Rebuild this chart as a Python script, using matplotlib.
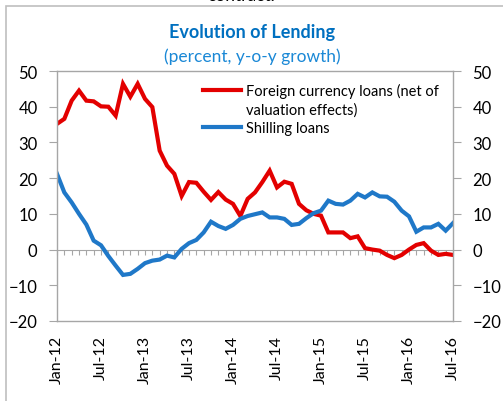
import numpy as np
import matplotlib.pyplot as plt
from matplotlib.lines import Line2D
from matplotlib.patches import Rectangle

plt.rcParams['font.family'] = ['Lato', 'DejaVu Sans']

# monthly data, Jan-12 .. Jul-16
months = ["Jan-12", "Feb-12", "Mar-12", "Apr-12", "May-12", "Jun-12", "Jul-12", "Aug-12", "Sep-12", "Oct-12", "Nov-12", "Dec-12",
          "Jan-13", "Feb-13", "Mar-13", "Apr-13", "May-13", "Jun-13", "Jul-13", "Aug-13", "Sep-13", "Oct-13", "Nov-13", "Dec-13",
          "Jan-14", "Feb-14", "Mar-14", "Apr-14", "May-14", "Jun-14", "Jul-14", "Aug-14", "Sep-14", "Oct-14", "Nov-14", "Dec-14",
          "Jan-15", "Feb-15", "Mar-15", "Apr-15", "May-15", "Jun-15", "Jul-15", "Aug-15", "Sep-15", "Oct-15", "Nov-15", "Dec-15",
          "Jan-16", "Feb-16", "Mar-16", "Apr-16", "May-16", "Jun-16", "Jul-16"]

foreign = [35.2, 36.6, 41.7, 44.5, 41.7, 41.5, 40.1, 40.0, 37.5, 46.4, 42.8, 46.4,
           42.2, 39.9, 27.7, 23.5, 21.2, 15.0, 18.9, 18.7, 16.2, 13.9, 16.1, 14.0,
           12.8, 9.4, 14.2, 16.0, 18.9, 22.1, 17.4, 19.0, 18.4, 12.8, 11.0, 10.0,
           9.5, 4.8, 4.8, 4.8, 3.2, 3.7, 0.4, 0.0, -0.3, -1.5, -2.4, -1.5,
           0.0, 1.3, 1.8, -0.3, -1.5, -1.2, -1.5]

shilling = [21.2, 16.0, 13.2, 10.0, 7.0, 2.5, 1.2, -1.8, -4.5, -7.1, -6.8, -5.4,
            -3.8, -3.1, -2.8, -1.7, -2.2, 0.2, 1.8, 2.7, 4.8, 7.8, 6.6, 5.8,
            6.9, 8.6, 9.4, 9.9, 10.4, 9.0, 9.0, 8.6, 6.9, 7.2, 8.8, 10.2,
            10.9, 13.7, 12.8, 12.6, 13.7, 15.6, 14.6, 16.0, 14.9, 14.8, 13.4, 10.9,
            9.3, 5.0, 6.2, 6.2, 7.2, 5.3, 7.4]

x = np.arange(len(months))
gray = "#A6A6A6"

fig = plt.figure(figsize=(5.03, 4.02), dpi=100)
ax = fig.add_axes([57 / 503, 80 / 402, 396 / 503, 250 / 402])

ax.plot(x, foreign, color="#E30000", lw=3, solid_joinstyle="miter")
ax.plot(x, shilling, color="#1F78C8", lw=3, solid_joinstyle="miter")

ax.set_xlim(0, len(months) - 1)
ax.set_ylim(-20, 50)
ax.set_yticks(range(-20, 51, 10))
ax.set_xticks(x[::6])
ax.set_xticklabels(months[::6], rotation=90, fontsize=11.5)
ax.tick_params(axis="x", length=0, pad=10)
ax.tick_params(axis="y", direction="out", length=6, color=gray, labelsize=12,
               pad=8, right=True, labelright=True)
for s in ax.spines.values():
    s.set_color(gray)
    s.set_linewidth(1)

# horizontal axis line at zero with monthly ticks
sec = ax.secondary_xaxis(2 / 7)
sec.set_xticks(x)
sec.tick_params(length=3.5, color=gray, labelbottom=False, labeltop=False)
for s in sec.spines.values():
    s.set_color(gray)

handles = [Line2D([], [], color="#E30000", lw=3),
           Line2D([], [], color="none"),
           Line2D([], [], color="#1F78C8", lw=3)]
labels = ["Foreign currency loans (net of", "valuation effects)", "Shilling loans"]
ax.legend(handles, labels, loc="upper left", bbox_to_anchor=(0.355, 0.975),
          frameon=False, fontsize=10.5, handlelength=2.6, handletextpad=0.3,
          labelspacing=0.3, borderaxespad=0)

fig.text(0.501, 0.918, "Evolution of Lending", ha="center", va="center",
         fontsize=13, fontweight="bold", color="#0070C0")
fig.text(0.501, 0.858, "(percent, y-o-y growth)", ha="center", va="center",
         fontsize=12.5, color="#1A88D6")
fig.text(0.479, 0.99, "contract.", ha="center", va="bottom", fontsize=12.5,
         color="black")

fig.patches.append(Rectangle((6 / 503, -0.1), 1.2, (395 / 402) + 0.1,
                             transform=fig.transFigure, fill=False,
                             edgecolor="#BFBFBF", lw=1.2))

fig.savefig("out.png", dpi=100)
